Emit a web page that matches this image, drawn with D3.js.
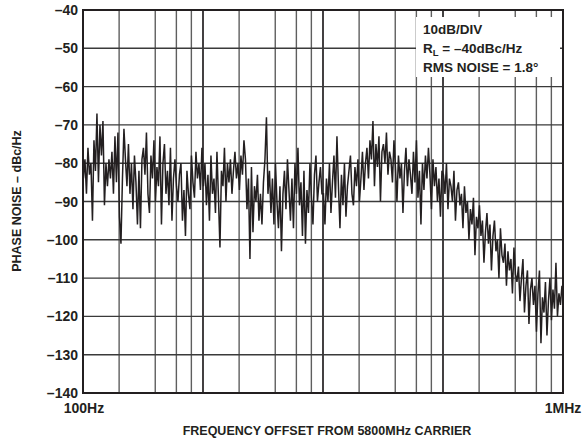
<!DOCTYPE html>
<html>
<head>
<meta charset="utf-8">
<script src="https://cdn.jsdelivr.net/npm/d3@7"></script>
<style>
  body { margin: 0; background: #fff; }
  text { font-family: "Liberation Sans", Arial, sans-serif; font-weight: bold; fill: #231f20; }
</style>
</head>
<body>
<svg id="chart" width="585" height="441"></svg>
<script>
  // phase noise readings, dBc/Hz, one array per decade (80 sweep points each)
  let decade1 = [-84,-79,-88,-76,-83,-80,-95,-74,-82,-67,-85,-70,-78,-69,-91,-80,-86,-79,-84,-77,
    -88,-73,-85,-72,-94,-101,-84,-71,-79,-86,-75,-88,-80,-92,-78,-85,-96,-82,-97,-79,
    -76,-83,-72,-88,-93,-78,-84,-74,-90,-81,-86,-73,-96,-80,-75,-88,-82,-91,-76,-95,
    -84,-79,-86,-90,-83,-80,-95,-87,-99,-82,-88,-92,-78,-85,-89,-77,-84,-80,-87,-76];
  let decade2 = [-86,-80,-91,-83,-95,-78,-88,-84,-93,-77,-89,-102,-82,-86,-76,-90,-80,-85,-79,-88,
    -82,-77,-84,-80,-87,-78,-83,-74,-79,-92,-84,-105,-81,-98,-86,-90,-83,-95,-88,-96,
    -85,-79,-68,-88,-82,-93,-84,-96,-80,-90,-97,-86,-103,-88,-82,-92,-79,-87,-95,-84,
    -97,-80,-88,-76,-91,-85,-99,-82,-101,-87,-93,-80,-89,-96,-83,-78,-90,-85,-81,-88];
  let decade3 = [-88,-96,-84,-90,-80,-93,-85,-78,-89,-73,-86,-97,-83,-91,-80,-94,-86,-82,-78,-88,
    -91,-81,-86,-79,-90,-84,-77,-87,-80,-76,-84,-74,-79,-69,-86,-75,-81,-73,-90,-77,
    -75,-80,-72,-83,-77,-79,-85,-74,-81,-90,-78,-84,-80,-93,-82,-76,-86,-79,-83,-88,
    -77,-85,-74,-89,-82,-96,-80,-87,-78,-84,-76,-83,-92,-79,-86,-81,-90,-84,-94,-82];
  let decade4 = [-83,-88,-80,-92,-84,-86,-90,-82,-95,-87,-85,-91,-88,-97,-86,-93,-90,-100,-92,-96,
    -89,-104,-94,-97,-91,-99,-95,-106,-98,-93,-101,-96,-108,-99,-95,-103,-100,-110,-97,-104,
    -106,-101,-112,-103,-108,-105,-114,-102,-109,-111,-107,-116,-110,-105,-119,-112,-108,-122,-113,-110,
    -117,-112,-124,-114,-108,-127,-115,-119,-111,-125,-116,-110,-121,-113,-118,-106,-120,-114,-117,-112];

  let yTicks = [-40, -50, -60, -70, -80, -90, -100, -110, -120, -130, -140];
  let xMinor = [2, 4, 6, 8];
  let decades = [100, 1000, 10000, 100000, 1000000];
  let notes = ['10dB/DIV', 'RL', 'RMS NOISE = 1.8°'];

(function () {
  let svg = d3.select('#chart');
  let left = 83, right = 563, top = 10, bottom = 393;

  let x = d3.scaleLog().domain([100, 1e6]).range([left, right]);
  let y = d3.scaleLinear().domain([-140, -40]).range([bottom, top]);

  // sweep points are spaced evenly in log frequency
  let noise = decade1.concat(decade2, decade3, decade4);
  let n = noise.length;
  let points = noise.map((v, i) => ({ f: 100 * Math.pow(10, 4 * (i + 0.3) / n), v: v }));

  // grid
  let minorLines = [];
  decades.slice(0, 4).forEach(d => xMinor.forEach(m => minorLines.push(d * m)));
  svg.selectAll('.xminor').data(minorLines).enter().append('line')
    .attr('class', 'xminor')
    .attr('x1', d => x(d)).attr('x2', d => x(d))
    .attr('y1', top).attr('y2', bottom)
    .attr('stroke', '#5f5f5f').attr('stroke-width', 1.4);
  svg.selectAll('.xmajor').data(decades.slice(1, 4)).enter().append('line')
    .attr('class', 'xmajor')
    .attr('x1', d => x(d)).attr('x2', d => x(d))
    .attr('y1', top).attr('y2', bottom)
    .attr('stroke', '#231f20').attr('stroke-width', 1.7);
  svg.selectAll('.ygrid').data(yTicks.slice(1, 10)).enter().append('line')
    .attr('class', 'ygrid')
    .attr('x1', left).attr('x2', right)
    .attr('y1', d => y(d)).attr('y2', d => y(d))
    .attr('stroke', '#3a3a3a').attr('stroke-width', 1.4);

  // annotation box blanks the grid behind it
  svg.append('rect')
    .attr('x', 416).attr('y', 17).attr('width', 144).attr('height', 60)
    .attr('fill', '#fff');

  // trace
  let line = d3.line().x(d => x(d.f)).y(d => y(d.v));
  svg.append('path')
    .datum(points)
    .attr('d', line)
    .attr('fill', 'none')
    .attr('stroke', '#231f20')
    .attr('stroke-width', 1.5)
    .attr('stroke-linejoin', 'miter');

  // frame
  svg.append('rect')
    .attr('x', left).attr('y', top)
    .attr('width', right - left).attr('height', bottom - top)
    .attr('fill', 'none').attr('stroke', '#231f20').attr('stroke-width', 2);

  // y tick labels
  svg.selectAll('.ylab').data(yTicks).enter().append('text')
    .attr('class', 'ylab')
    .attr('x', 78)
    .attr('y', d => y(d) + 5)
    .attr('text-anchor', 'end')
    .style('font-size', '14px')
    .text(d => '\u2013' + Math.abs(d));

  // x labels
  svg.append('text').attr('x', 84).attr('y', 413).attr('text-anchor', 'middle')
    .style('font-size', '14px').text('100Hz');
  svg.append('text').attr('x', 563).attr('y', 413).attr('text-anchor', 'middle')
    .style('font-size', '14px').text('1MHz');

  svg.append('text').attr('x', 327).attr('y', 435).attr('text-anchor', 'middle')
    .style('font-size', '12.5px').text('FREQUENCY OFFSET FROM 5800MHz CARRIER');
  svg.append('text')
    .attr('transform', 'translate(21,201) rotate(-90)')
    .attr('text-anchor', 'middle')
    .style('font-size', '12.5px').text('PHASE NOISE \u2013 dBc/Hz');

  // notes
  svg.append('text').attr('x', 423).attr('y', 34).style('font-size', '13.5px').text(notes[0]);
  let rl = svg.append('text').attr('x', 423).attr('y', 53).style('font-size', '13.5px');
  rl.append('tspan').text('R');
  rl.append('tspan').attr('dy', 3).style('font-size', '9.5px').text('L');
  rl.append('tspan').attr('dy', -3).text(' = \u201340dBc/Hz');
  svg.append('text').attr('x', 423).attr('y', 72).style('font-size', '13.5px').text(notes[2]);
})();
</script>
</body>
</html>
